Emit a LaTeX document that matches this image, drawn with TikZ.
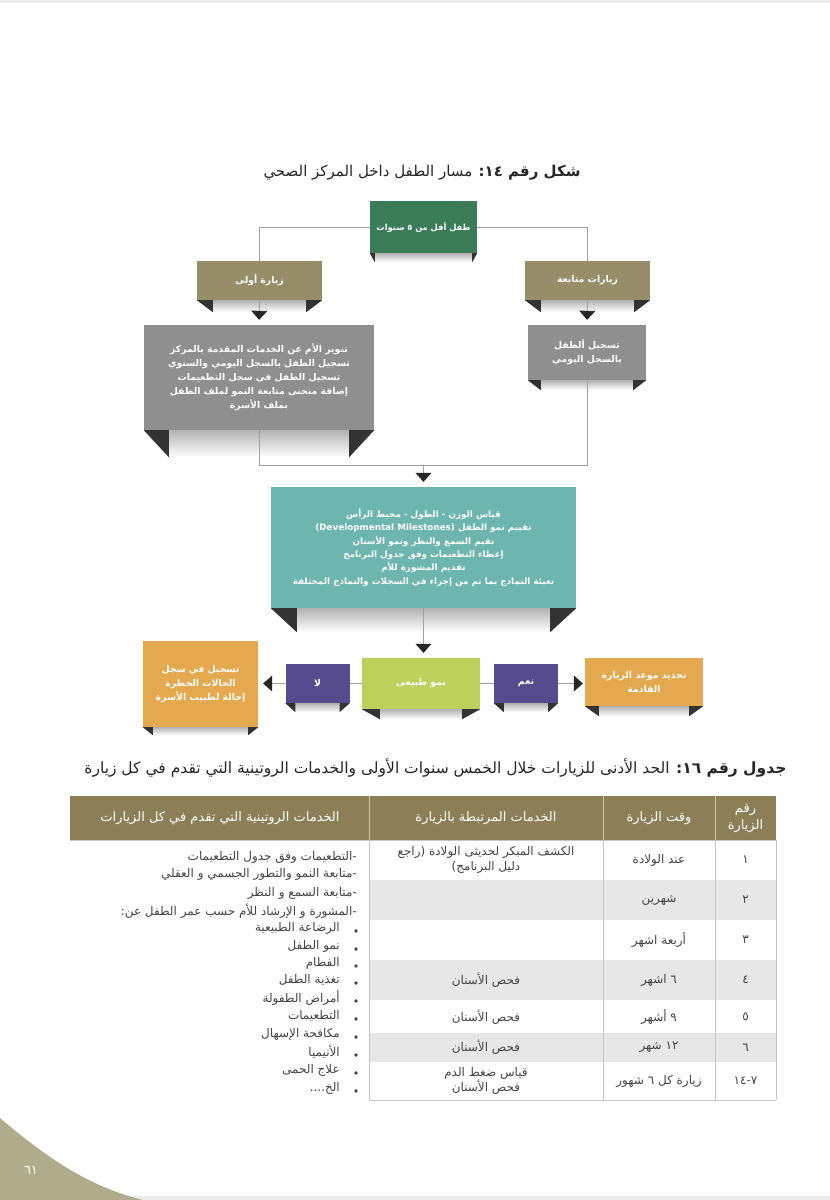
\documentclass[tikz,border=0pt]{standalone}
\usepackage{fontspec}
\usetikzlibrary{arrows.meta,calc}
\TeXXeTstate=1
\newfontfamily\arabicfont[Script=Arabic]{DejaVu Sans}
\newcommand{\ar}[1]{\beginR #1\endR}

\definecolor{verdeosc}{HTML}{3A7B58}
\definecolor{caqui}{HTML}{978D69}
\definecolor{gris}{HTML}{8F8F8F}
\definecolor{turquesa}{HTML}{6CB6AF}
\definecolor{lima}{HTML}{BDD05B}
\definecolor{morado}{HTML}{554B8D}
\definecolor{naranja}{HTML}{E4A94E}
\definecolor{cabecera}{HTML}{8C7F58}
\definecolor{filagris}{HTML}{E7E7E7}
\definecolor{esquina}{HTML}{AFAB8B}
\definecolor{texto}{HTML}{444444}

% pliegue bajo una caja: nodo, ancho, alto
\newcommand{\pliegue}[3]{%
  \shade[top color=black!30, bottom color=white]
    ($(#1.south west)+(#2,0)$) rectangle ($(#1.south east)+(-#2,#3)$);
  \fill[black!80] (#1.south west) -- ++(#2,0) -- ++(0,#3) -- cycle;
  \fill[black!80] (#1.south east) -- ++(-#2,0) -- ++(0,#3) -- cycle;
}

\tikzset{
  caja/.style={align=center, text=white, inner sep=2pt,
    font=\arabicfont\bfseries\fontsize{9.3}{14}\selectfont},
  linea/.style={draw=gray!75, line width=0.8pt},
  flecha/.style={linea, -{Triangle[width=16pt,length=9pt,black!85]}, shorten >=5pt},
  cab/.style={align=center, text=white, font=\arabicfont\fontsize{13}{17}\selectfont},
  celda/.style={align=center, text=texto, font=\arabicfont\fontsize{12}{15}\selectfont},
  renglon/.style={anchor=east, text=texto, inner sep=0pt, font=\arabicfont\fontsize{12}{15}\selectfont},
  rejilla/.style={draw=gray!45, line width=0.6pt},
}

\begin{document}
\begin{tikzpicture}[x=1pt, y=-1pt]
  \useasboundingbox (0,0) rectangle (830,1200);
  \fill[gray!15] (0,0) rectangle (830,3);
  \fill[gray!15] (0,1196) rectangle (830,1200);

  % Titulo de la figura
  \node[font=\arabicfont\fontsize{15}{18}\selectfont, text=black!85] (titulo) at (422,173)
    {\ar{{\bfseries شكل رقم ١٤:} مسار الطفل داخل المركز الصحي}};

  % Cajas
  \node[caja, fill=verdeosc, minimum width=107pt, minimum height=52pt,
    font=\arabicfont\bfseries\fontsize{8.3}{14}\selectfont] (nino) at (423.5,227)
    {\ar{طفل أقل من ٥ سنوات}};
  \node[caja, fill=caqui, minimum width=125pt, minimum height=39pt] (primera) at (259.5,280.5)
    {\ar{زيارة أولى}};
  \node[caja, fill=caqui, minimum width=125pt, minimum height=39pt] (seguim) at (587.5,280.5)
    {\ar{زيارات متابعة}};
  \node[caja, fill=gris, minimum width=230pt, minimum height=105pt] (info1) at (259,377.5)
    {\ar{تنوير الأم عن الخدمات المقدمة بالمركز}\\
     \ar{تسجيل الطفل بالسجل اليومي والسنوي}\\
     \ar{تسجيل الطفل في سجل التطعيمات}\\
     \ar{إضافة منحنى متابعة النمو لملف الطفل}\\
     \ar{بملف  الأسرة}};
  \node[caja, fill=gris, minimum width=118pt, minimum height=55pt] (info2) at (587,352.5)
    {\ar{تسجيل ألطفل}\\ \ar{بالسجل اليومي}};
  \node[caja, fill=turquesa, minimum width=305pt, minimum height=121pt,
    font=\arabicfont\bfseries\fontsize{8.8}{13.4}\selectfont] (revision) at (423.5,547.5)
    {\ar{قياس الوزن - الطول - محيط الرأس}\\
     \ar{تقييم نمو الطفل \beginL(Developmental Milestones)\endL}\\
     \ar{تقيم السمع والنظر ونمو الأسنان}\\
     \ar{إعطاء التطعيمات وفق جدول البرنامج}\\
     \ar{تقديم المشورة للأم}\\
     \ar{تعبئة النماذج بما تم من إجراء في السجلات والنماذج المختلفة}};
  \node[caja, fill=lima, minimum width=118pt, minimum height=51pt] (normal) at (421,683.5)
    {\ar{نمو طبيعى}};
  \node[caja, fill=morado, minimum width=64pt, minimum height=39pt] (no) at (317.5,683.5)
    {\ar{لا}};
  \node[caja, fill=morado, minimum width=64pt, minimum height=39pt] (si) at (526,683.5)
    {\ar{نعم}};
  \node[caja, fill=naranja, minimum width=115pt, minimum height=86pt] (remision) at (200.5,684)
    {\ar{تسجيل في سجل}\\ \ar{الحالات الخطرة}\\ \ar{إحالة لطبيب الأسرة}};
  \node[caja, fill=naranja, minimum width=118pt, minimum height=48pt] (proxima) at (644,682)
    {\ar{تحديد موعد الزيارة}\\ \ar{القادمة}};

  % Pliegues
  \pliegue{nino}{5}{9}
  \pliegue{primera}{16}{12}
  \pliegue{seguim}{16}{12}
  \pliegue{info1}{25}{27}
  \pliegue{info2}{13}{10}
  \pliegue{revision}{26}{24}
  \pliegue{normal}{18}{10}
  \pliegue{no}{10}{9}
  \pliegue{si}{10}{9}
  \pliegue{remision}{10}{8}
  \pliegue{proxima}{14}{10}

  % Conexiones
  \coordinate (union) at (423.5,465);
  \draw[linea] (nino.west) -| (primera.north);
  \draw[linea] (nino.east) -| (seguim.north);
  \draw[flecha] (primera.south) -- (info1.north);
  \draw[flecha] (seguim.south) -- (info2.north);
  \draw[linea] (info1.south) |- (union);
  \draw[linea] (info2.south) |- (union);
  \draw[flecha] (union) -- (revision.north);
  \draw[flecha] (revision.south) -- (revision.south |- normal.north);
  \draw[linea] (normal.west) -- (no.east);
  \draw[linea] (normal.east) -- (si.west);
  \draw[flecha] (no.west) -- (no.west -| remision.east);
  \draw[flecha, shorten >=2pt] (si.east) -- (si.east -| proxima.west);

  % Titulo de la tabla
  \node[anchor=east, font=\arabicfont\fontsize{15.5}{18}\selectfont, text=black!85] (tabtitulo) at (790,768)
    {\ar{{\bfseries جدول رقم ١٦:} الحد الأدنى للزيارات خلال الخمس سنوات الأولى والخدمات الروتينية التي تقدم في كل زيارة}};

  % Encabezado y filas
  \fill[cabecera] (70,796) rectangle (776,840);
  \fill[filagris] (369,880) rectangle (776,920);
  \fill[filagris] (369,960) rectangle (776,1000);
  \fill[filagris] (369,1033) rectangle (776,1062);
  \draw[white!55!cabecera, line width=0.6pt] (369,796) -- (369,840) (603,796) -- (603,840) (715,796) -- (715,840);
  \draw[rejilla] (70,840) -- (776,840);
  \foreach \xc in {369,603,715,776}
    \draw[rejilla] (\xc,840) -- (\xc,1100);
  \draw[rejilla] (369,1100) -- (776,1100);

  \node[cab] (h1) at (220,818) {\ar{الخدمات الروتينية التي تقدم في كل الزيارات}};
  \node[cab] (h2) at (486,818) {\ar{الخدمات المرتبطة بالزيارة}};
  \node[cab] (h3) at (659,818) {\ar{وقت الزيارة}};
  \node[cab, font=\arabicfont\fontsize{13}{17}\selectfont] (h4) at (745.5,818) {\ar{رقم}\\ \ar{الزيارة}};

  % Numero y tiempo de la visita
  \node[celda] (n1) at (745.5,860) {\ar{١}};
  \node[celda] (n2) at (745.5,900) {\ar{٢}};
  \node[celda] (n3) at (745.5,940) {\ar{٣}};
  \node[celda] (n4) at (745.5,980) {\ar{٤}};
  \node[celda] (n5) at (745.5,1017) {\ar{٥}};
  \node[celda] (n6) at (745.5,1047.5) {\ar{٦}};
  \node[celda] (n7) at (745.5,1081) {\ar{٧-١٤}};
  \node[celda] (t1) at (659,860) {\ar{عند الولادة}};
  \node[celda] (t2) at (659,900) {\ar{شهرين}};
  \node[celda] (t3) at (659,940) {\ar{أربعة اشهر}};
  \node[celda] (t4) at (659,980) {\ar{٦ اشهر}};
  \node[celda] (t5) at (659,1017) {\ar{٩ أشهر}};
  \node[celda] (t6) at (659,1047.5) {\ar{١٢ شهر}};
  \node[celda] (t7) at (659,1081) {\ar{زيارة كل ٦ شهور}};

  % Servicios de la visita
  \node[celda] (s1) at (486,860) {\ar{الكشف المبكر لحديثى الولادة (راجع}\\ \ar{دليل البرنامج)}};
  \node[celda] (s4) at (486,980) {\ar{فحص الأسنان}};
  \node[celda] (s5) at (486,1017) {\ar{فحص الأسنان}};
  \node[celda] (s6) at (486,1047.5) {\ar{فحص الأسنان}};
  \node[celda] (s7) at (486,1081) {\ar{قياس ضغط الدم}\\ \ar{فحص الأسنان}};

  % Servicios de rutina
  \node[renglon] (r1) at (357,857) {\ar{-التطعيمات وفق جدول التطعيمات}};
  \node[renglon] (r2) at (357,874) {\ar{-متابعة النمو والتطور الجسمي و العقلي}};
  \node[renglon] (r3) at (357,893) {\ar{-متابعة السمع و النظر}};
  \node[renglon] (r4) at (357,911) {\ar{-المشورة و الإرشاد للأم حسب عمر الطفل عن:}};
  \foreach \yy/\tx [count=\i] in {928/الرضاعة الطبيعية, 946/نمو الطفل, 963/الفطام,
      980/تغذية الطفل, 998/أمراض الطفولة, 1016/التطعيمات, 1034/مكافحة الإسهال,
      1052/الأنيميا, 1070/علاج الحمى} {
    \node[renglon] (b\i) at (340,\yy) {\ar{\tx}};
    \fill[texto] (356,\yy+3) circle (1.8);
  }
  \node[renglon] (b10) at (340,1088) {\ar{الخ....}};
  \fill[texto] (356,1091) circle (1.8);

  % Numero de pagina
  \fill[esquina] (0,1118) .. controls (55,1165) and (95,1188) .. (143,1200) -- (0,1200) -- cycle;
  \node[text=white, font=\arabicfont\fontsize{13}{15}\selectfont] (pagina) at (31,1170) {٦١};
\end{tikzpicture}
\end{document}
